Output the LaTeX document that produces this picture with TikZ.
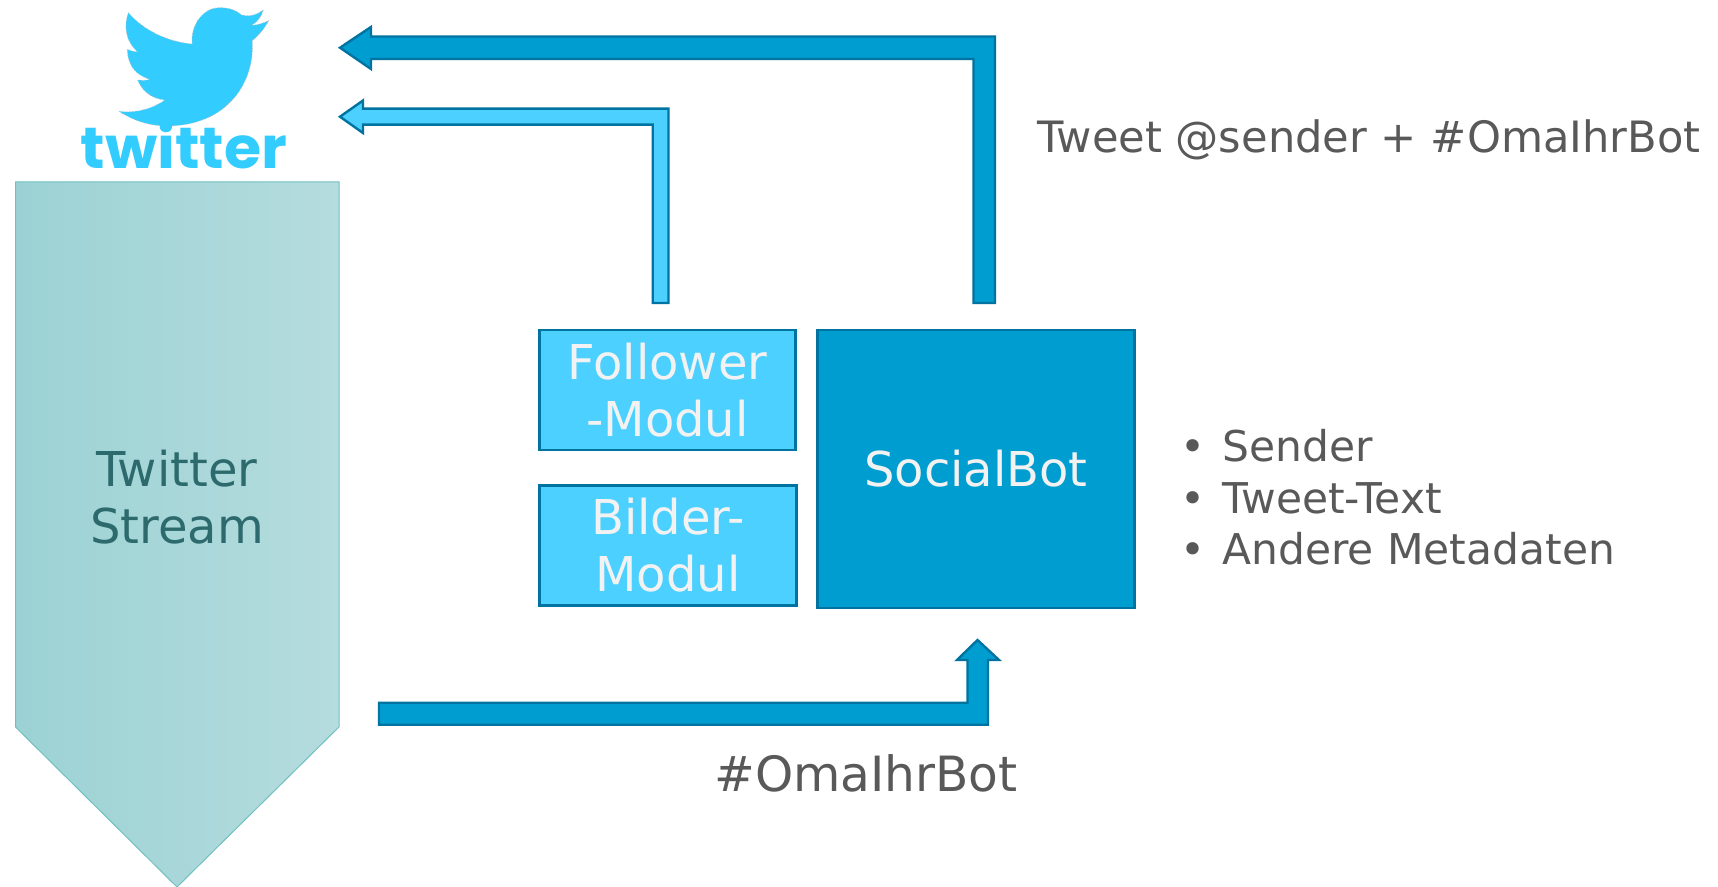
\documentclass[tikz,border=0pt]{standalone}
\usepackage{fontspec}
\setmainfont{DejaVu Sans}
\newfontfamily\logofont{Poppins}
\usepackage{tikz}
\usetikzlibrary{positioning}
\definecolor{darkblue}{HTML}{009DD1}
\definecolor{lightblue}{HTML}{4BD0FF}
\definecolor{edgeblue}{HTML}{0073A0}
\definecolor{logoblue}{HTML}{33CCFF}
\definecolor{greytext}{HTML}{595959}
\definecolor{tealtext}{HTML}{2D6A6D}
\definecolor{streamleft}{HTML}{9CD2D4}
\definecolor{streamright}{HTML}{B5DCDE}
\definecolor{streamedge}{HTML}{70C0C2}
\tikzset{
	modul/.style={draw=edgeblue, line width=1.4pt, fill=lightblue, text=white!95!black, align=center, font=\fontsize{24}{28.5}\selectfont},
	botbox/.style={modul, fill=darkblue},
	darkarrow/.style={draw=edgeblue, line width=1.2pt, fill=darkblue},
	lightarrow/.style={draw=edgeblue, line width=1.2pt, fill=lightblue},
	label/.style={text=greytext, inner sep=0pt, anchor=base west, font=\fontsize{21.2}{25}\selectfont},
}
\newcommand{\bulletmark}{\makebox[21pt][l]{•}}

\begin{document}
\begin{tikzpicture}[x=0.5pt, y=-0.5pt]
	\useasboundingbox (0,0) rectangle (1718,887);

	% twitter logo
	\begin{scope}[scale=0.3333]
		\path[fill=logoblue, draw=black!25, densely dotted, line width=0.4pt] (790,30) .. controls (765,48) and (745,50) .. (725,45)
			.. controls (705,28) and (680,22) .. (655,23) .. controls (610,25) and (570,75) .. (577,132)
			.. controls (500,125) and (430,90) .. (385,38) .. controls (370,80) and (378,125) .. (412,155)
			.. controls (400,155) and (390,152) .. (382,148) .. controls (383,195) and (405,225) .. (450,238)
			.. controls (435,242) and (425,242) .. (413,240) .. controls (425,272) and (455,297) .. (495,300)
			.. controls (455,328) and (405,340) .. (357,334) .. controls (400,362) and (450,378) .. (500,378)
			.. controls (680,378) and (765,250) .. (757,122) .. controls (775,108) and (792,88) .. (806,62)
			.. controls (790,70) and (772,75) .. (755,76) .. controls (772,66) and (785,50) .. (790,30) -- cycle;
	\end{scope}
	\node[inner sep=0pt, anchor=base, text=logoblue, font=\logofont\bfseries\fontsize{29}{29}\selectfont, xscale=1.04] (logo) at (184,169) {twitter};

	% stream
	\path[draw=streamedge, line width=0.5pt, left color=streamleft, right color=streamright]
		(15.5,182) -- (339,182) -- (339,727) -- (177,887) -- (15.5,727) -- cycle;
	\node[text=tealtext, align=center, font=\fontsize{24}{28.8}\selectfont] (stream) at (177,497) {Twitter\\Stream};

	% boxes
	\node[modul, minimum width=128.2pt, minimum height=60pt] (follower) at (667.5,390) {Follower\\-Modul};
	\node[modul, minimum width=128.2pt, minimum height=60pt] (bilder) at (668,545.4) {Bilder-\\Modul};
	\node[botbox, minimum width=158.2pt, minimum height=139pt] (bot) at (976,469) {SocialBot};

	% arrows
	\path[darkarrow] (340,47.7) -- (371,27) -- (371,36.5) -- (995,36.5) -- (995,303) -- (973.5,303) -- (973.5,59) -- (371,59) -- (371,69) -- cycle;
	\path[lightarrow] (340,116.7) -- (363,100.5) -- (363,108.7) -- (668.5,108.7) -- (668.5,303) -- (652.7,303) -- (652.7,124.7) -- (363,124.7) -- (363,133) -- cycle;
	\path[darkarrow] (379,724.7) -- (379,702.7) -- (967.5,702.7) -- (967.5,660) -- (957,660) -- (977.5,640) -- (999,660) -- (988,660) -- (988,724.7) -- cycle;

	% labels
	\node[label, font=\fontsize{21.6}{25}\selectfont] (tweet) at (1037,153) {Tweet @sender + \#OmaIhrBot};
	\node[label, font=\fontsize{24.3}{25}\selectfont] (tag) at (714,791) {\#OmaIhrBot};
	\node[label] (sender) at (1180,461) {\bulletmark Sender};
	\node[label] (text) at (1180,513) {\bulletmark Tweet-Text};
	\node[label] (meta) at (1180,564) {\bulletmark Andere Metadaten};
\end{tikzpicture}
\end{document}
